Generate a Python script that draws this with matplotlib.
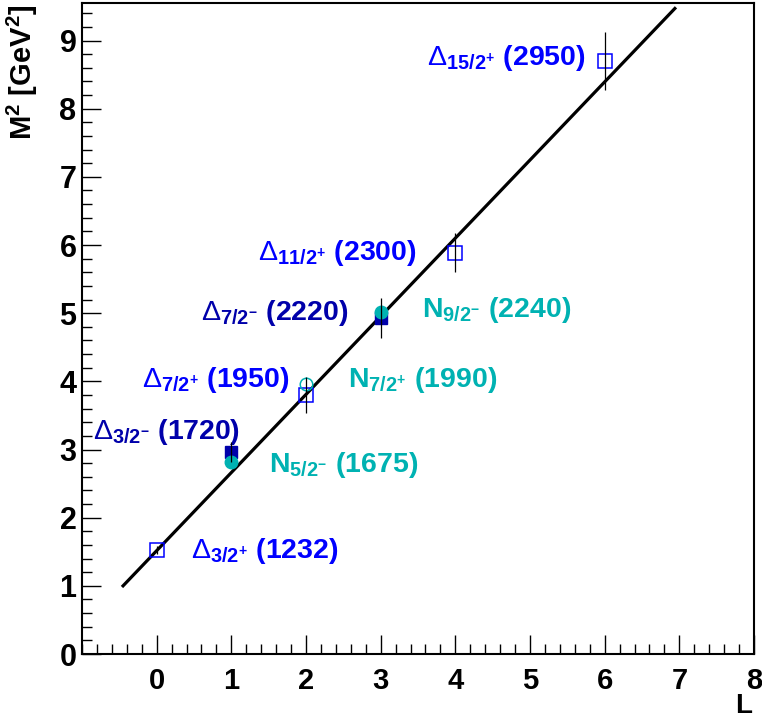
import matplotlib
matplotlib.use("Agg")
import matplotlib.pyplot as plt
from matplotlib.ticker import MultipleLocator

plt.rcParams['font.family'] = ['Liberation Sans', 'DejaVu Sans']
plt.rcParams['mathtext.fontset'] = 'custom'
plt.rcParams['mathtext.rm'] = 'Liberation Sans'
plt.rcParams['mathtext.bf'] = 'Liberation Sans:bold'
plt.rcParams['mathtext.it'] = 'Liberation Sans:italic'

# colores
c_dplus = '#0000ff'   # Delta paridad +
c_dminus = '#0000aa'  # Delta paridad -
c_n = '#00b2b2'       # N

# Delta+ (cuadro abierto)
dp_L = [0, 2, 4, 6]
dp_M2 = [1.52, 3.80, 5.89, 8.70]
dp_err = [0.06, 0.26, 0.29, 0.43]

# Delta- (cuadro lleno)
dm_L = [1, 3]
dm_M2 = [2.96, 4.93]
dm_err = [0.15, 0.29]

# N- (circulo lleno)
nm_L = [1, 3]
nm_M2 = [2.81, 5.02]

# N+ (circulo abierto)
np_L = [2]
np_M2 = [3.96]

# recta de Regge
line_L = [-0.45, 6.94]
line_M2 = [1.0, 9.47]

labels = [r'$\Delta_{\mathbf{15/2^{+}}}$ (2950)', r'$\Delta_{\mathbf{11/2^{+}}}$ (2300)',
          r'$\Delta_{\mathbf{7/2^{-}}}$ (2220)', r'$\mathbf{N}_{\mathbf{9/2^{-}}}$ (2240)',
          r'$\Delta_{\mathbf{7/2^{+}}}$ (1950)', r'$\mathbf{N}_{\mathbf{7/2^{+}}}$ (1990)',
          r'$\Delta_{\mathbf{3/2^{-}}}$ (1720)', r'$\mathbf{N}_{\mathbf{5/2^{-}}}$ (1675)',
          r'$\Delta_{\mathbf{3/2^{+}}}$ (1232)']
label_colors = [c_dplus, c_dplus, c_dminus, c_n, c_dplus, c_n, c_dminus, c_n, c_dplus]
label_pos = [(3.62, 8.74), (1.36, 5.88), (0.59, 5.00), (3.56, 5.04), (-0.20, 4.02),
             (2.56, 4.02), (-0.85, 3.25), (1.50, 2.77), (0.46, 1.51)]

fig = plt.figure(figsize=(7.62, 7.19), dpi=100)
ax = fig.add_axes([0.1076, 0.0904, 0.8819, 0.9054])

ax.plot(line_L, line_M2, color='black', lw=2.3, zorder=2)

ax.plot(dm_L, dm_M2, 's', color=c_dminus, ms=8.5, zorder=4)
ax.plot(nm_L, nm_M2, 'o', color=c_n, ms=9, zorder=5)
ax.plot(dp_L, dp_M2, 's', mfc='none', mec=c_dplus, mew=1.1, ms=9.5, zorder=4)
ax.plot(np_L, np_M2, 'o', mfc='none', mec=c_n, mew=1.1, ms=9, zorder=4)

# errores encima de los marcadores
ax.errorbar(dp_L, dp_M2, yerr=dp_err, fmt='none', ecolor='black', elinewidth=0.9, zorder=6)
ax.errorbar(dm_L, dm_M2, yerr=dm_err, fmt='none', ecolor='black', elinewidth=0.9, zorder=6)

for txt, col, (x, y) in zip(labels, label_colors, label_pos):
    ax.text(x, y, txt, color=col, fontsize=20.5, fontweight='bold', va='center', ha='left')

ax.set_xlim(-1, 8)
ax.set_ylim(0, 9.55)
ax.xaxis.set_major_locator(MultipleLocator(1))
ax.xaxis.set_minor_locator(MultipleLocator(0.2))
ax.yaxis.set_major_locator(MultipleLocator(1))
ax.yaxis.set_minor_locator(MultipleLocator(0.2))
ax.set_xticks([0, 1, 2, 3, 4, 5, 6, 7, 8])
ax.tick_params(which='both', direction='in', top=False, right=False, width=1)
ax.tick_params(which='major', length=14)
ax.tick_params(which='minor', length=7)
ax.tick_params(axis='x', pad=9, labelsize=21)
ax.tick_params(axis='y', pad=4, labelsize=22)
for lab in ax.get_xticklabels() + ax.get_yticklabels():
    lab.set_fontweight('bold')
for s in ax.spines.values():
    s.set_linewidth(1.5)

fig.text(22 / 762, 1 - 5 / 719, r'M$^{\mathbf{2}}$ [GeV$^{\mathbf{2}}$]', fontsize=21,
         fontweight='bold', rotation=90, ha='center', va='top')
fig.text(752 / 762, 1 - 713 / 719, 'L', fontsize=20, fontweight='bold', ha='right', va='baseline')

plt.savefig('out.png', dpi=100)
